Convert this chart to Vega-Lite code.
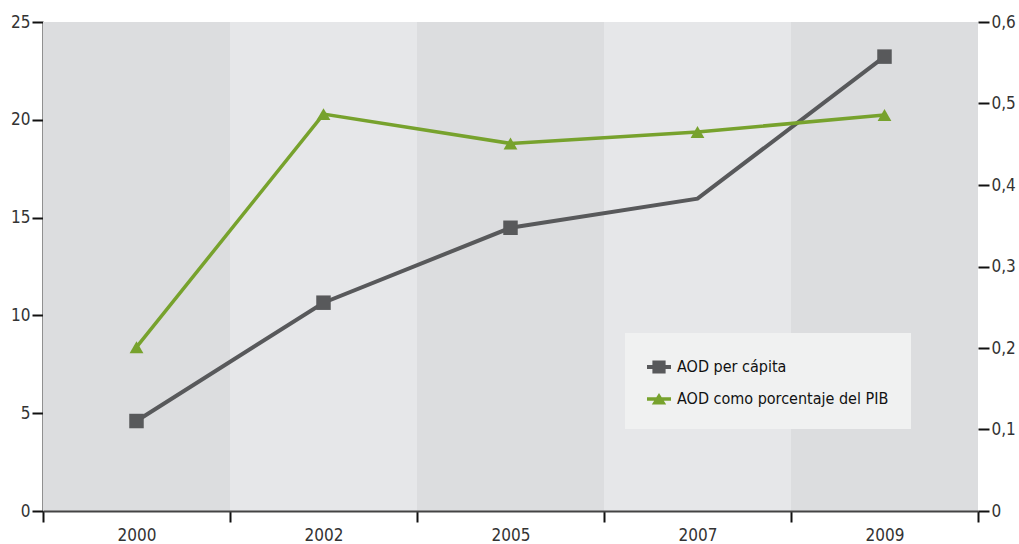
{
  "$schema": "https://vega.github.io/schema/vega-lite/v6.json",
  "width": 935,
  "height": 489,
  "autosize": {"type": "none"},
  "padding": {"left": 43, "top": 22, "right": 41, "bottom": 33},
  "background": "white",
  "config": {
    "view": {"stroke": null},
    "font": "DejaVu Sans Condensed, sans-serif",
    "axis": {
      "grid": false,
      "labelFont": "DejaVu Sans Condensed, sans-serif",
      "labelFontSize": 17,
      "labelColor": "#333333",
      "tickColor": "#111111",
      "tickWidth": 2,
      "tickSize": 11,
      "domainColor": "#222222",
      "domainWidth": 2,
      "title": null
    }
  },
  "data": {
    "values": [
      {"year": "2000", "percapita": 4.6, "pib": 0.201},
      {"year": "2002", "percapita": 10.65, "pib": 0.487},
      {"year": "2005", "percapita": 14.48, "pib": 0.451},
      {"year": "2007", "percapita": 15.97, "pib": 0.465},
      {"year": "2009", "percapita": 23.23, "pib": 0.486}
    ]
  },
  "encoding": {
    "x": {
      "field": "year",
      "type": "ordinal",
      "scale": {"paddingInner": 0, "paddingOuter": 0},
      "axis": {
        "title": null,
        "labelAngle": 0,
        "tickBand": "extent",
        "labelPadding": 5,
        "domainColor": "#444444"
      }
    }
  },
  "layer": [
    {
      "mark": {"type": "rect"},
      "encoding": {
        "fill": {
          "field": "year",
          "type": "nominal",
          "scale": {"range": ["#dcdddf", "#e6e7e9"]},
          "legend": null
        }
      }
    },
    {
      "encoding": {
        "y": {
          "field": "percapita",
          "type": "quantitative",
          "scale": {"domain": [0, 25]},
          "axis": {"orient": "left", "values": [0, 5, 10, 15, 20, 25], "labelPadding": 2, "title": null}
        },
        "color": {
          "datum": "AOD per cápita",
          "type": "nominal",
          "scale": {
            "domain": ["AOD per cápita", "AOD como porcentaje del PIB"],
            "range": ["#58595b", "#77a22d"]
          },
          "legend": {
            "title": null,
            "orient": "none",
            "legendX": 582,
            "legendY": 311,
            "fillColor": "#f0f1f1",
            "padding": 22,
            "rowPadding": 12,
            "labelOffset": 6,
            "labelFontSize": 16,
            "labelColor": "#111111",
            "labelFont": "DejaVu Sans Condensed, sans-serif",
            "labelLimit": 400,
            "symbolSize": 576,
            "encode": {
              "symbols": {
                "update": {
                  "shape": {"signal": "datum.value === 'AOD per cápita' ? 'M-1,-0.17H1V0.17H-1Z M-0.55,-0.55H0.55V0.55H-0.55Z' : 'M-1,-0.15H1V0.15H-1Z M0,-0.5L0.6,0.45H-0.6Z'"},
                  "fill": {"signal": "datum.value === 'AOD per cápita' ? '#58595b' : '#77a22d'"},
                  "stroke": {"value": "transparent"},
                  "strokeWidth": {"value": 0},
                  "opacity": {"value": 1}
                }
              }
            }
          }
        }
      },
      "layer": [
        {"mark": {"type": "line", "strokeWidth": 4}},
        {
          "transform": [{"filter": "datum.year !== '2007'"}],
          "mark": {"type": "point", "shape": "square", "filled": true, "size": 210, "opacity": 1}
        }
      ]
    },
    {
      "encoding": {
        "y": {
          "field": "pib",
          "type": "quantitative",
          "scale": {"domain": [0, 0.6]},
          "axis": {
            "orient": "right",
            "values": [0, 0.1, 0.2, 0.3, 0.4, 0.5, 0.6],
            "domain": false,
            "labelPadding": 2,
            "title": null,
            "labelExpr": "replace(format(datum.value, '.1~f'), '.', ',')"
          }
        },
        "color": {"datum": "AOD como porcentaje del PIB", "type": "nominal"}
      },
      "layer": [
        {"mark": {"type": "line", "strokeWidth": 3.5}},
        {"mark": {"type": "point", "shape": "triangle-up", "filled": true, "size": 190, "opacity": 1}}
      ]
    }
  ],
  "resolve": {"scale": {"y": "independent"}}
}
